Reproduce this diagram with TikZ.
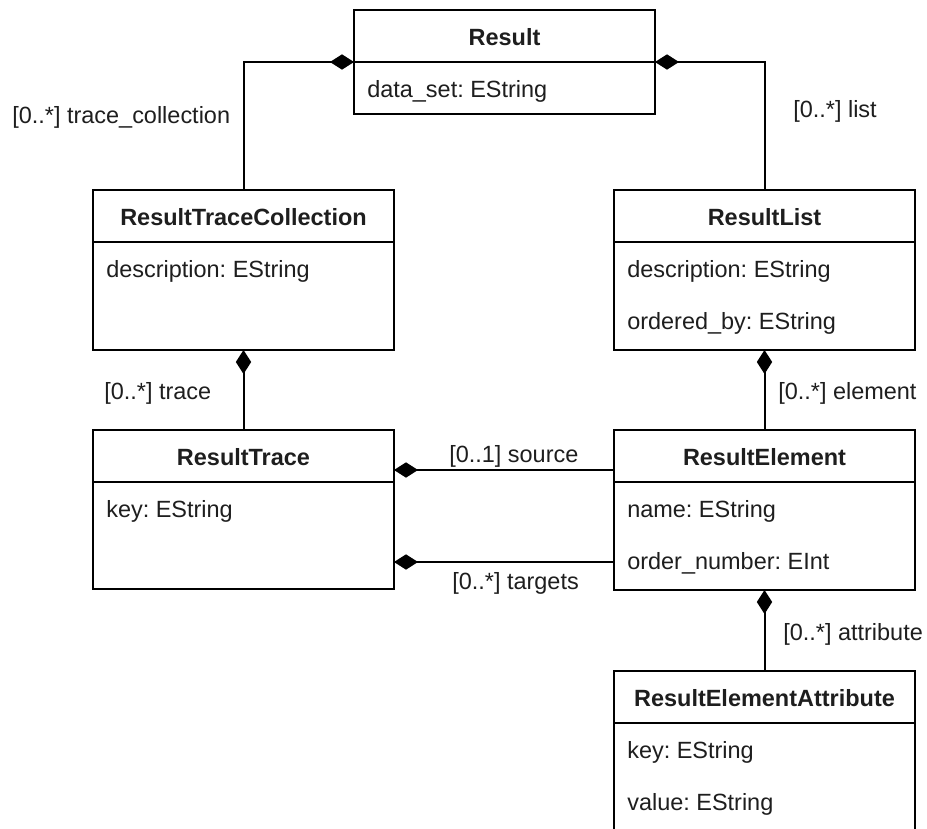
\documentclass[tikz,border=0pt]{standalone}
\usepackage{fontspec}
\setmainfont{Liberation Sans}
\usetikzlibrary{arrows.meta,fit}
\frenchspacing

\definecolor{ink}{HTML}{1E1E1E}

\tikzset{
  x=0.75pt, y=-0.75pt,
  classbox/.style={draw=black, line width=1.5pt, inner sep=0pt, outer sep=0pt, fill=white},
  ctitle/.style={font=\fontsize{17.6}{21}\selectfont\bfseries, text=ink, anchor=base, inner sep=0pt},
  cattr/.style={font=\fontsize{17.6}{21}\selectfont, text=ink, anchor=base west, inner sep=0pt},
  role/.style={font=\fontsize{17.6}{21}\selectfont, text=ink, inner sep=0pt},
  divider/.style={draw=black, line width=1.5pt},
  comp/.style={draw=black, line width=1.5pt, {Diamond[length=18pt,width=11.5pt]}-},
}

% class box: name, left, top, right, bottom, title
\newcommand\umlclass[6]{%
  \node[classbox, fit={(#2,#3) (#4,#5)}] (#1) {};
  \draw[divider] ([shift={(0,52)}]#1.north west) -- ([shift={(0,52)}]#1.north east);
  \node[ctitle] (#1-title) at ([shift={(0,35)}]#1.north) {#6};
}
% attribute row: class, node name, row number, text
\newcommand\umlattr[4]{%
  \node[cattr] (#2) at ([shift={(13,{35+52*#3})}]#1.north west) {#4};
}

\begin{document}
\begin{tikzpicture}
  \useasboundingbox (0,0) rectangle (927,828);
  \fill[white] (0,0) rectangle (927,828);
  \clip (0,0) rectangle (927,828);

  % classes
  \umlclass{result}{354}{10}{655}{114}{Result}
  \umlattr{result}{result-a1}{1}{data\_set: EString}

  \umlclass{rtc}{93}{190}{394}{350}{ResultTraceCollection}
  \umlattr{rtc}{rtc-a1}{1}{description: EString}

  \umlclass{rlist}{614}{190}{915}{350}{ResultList}
  \umlattr{rlist}{rlist-a1}{1}{description: EString}
  \umlattr{rlist}{rlist-a2}{2}{ordered\_by: EString}

  \umlclass{rtrace}{93}{430}{394}{589}{ResultTrace}
  \umlattr{rtrace}{rtrace-a1}{1}{key: EString}

  \umlclass{relem}{614}{430}{915}{590}{ResultElement}
  \umlattr{relem}{relem-a1}{1}{name: EString}
  \umlattr{relem}{relem-a2}{2}{order\_number: EInt}

  \umlclass{rattr}{614}{671}{915}{880}{ResultElementAttribute}
  \umlattr{rattr}{rattr-a1}{1}{key: EString}
  \umlattr{rattr}{rattr-a2}{2}{value: EString}

  % compositions
  \coordinate (srcy) at (0,470);
  \coordinate (tgty) at (0,562);
  \draw[comp] (result.west) -| (rtc.north);
  \draw[comp] (result.east) -| (rlist.north);
  \draw[comp] (rtc.south) -- (rtrace.north);
  \draw[comp] (rlist.south) -- (relem.north);
  \draw[comp] (rtrace.east |- srcy) -- (relem.west |- srcy);
  \draw[comp] (rtrace.east |- tgty) -- (relem.west |- tgty);
  \draw[comp] (relem.south) -- (rattr.north);

  % role names
  \node[role, anchor=base west] (l-tc) at (12,123) {[0..*] trace\_collection};
  \node[role, anchor=base west] (l-list) at (793,117) {[0..*] list};
  \node[role, anchor=base west] (l-trace) at (104,399) {[0..*] trace};
  \node[role, anchor=base west] (l-elem) at (778,399) {[0..*] element};
  \node[role, anchor=base west] (l-src) at (449,462) {[0..1] source};
  \node[role, anchor=base west] (l-tgt) at (452,589) {[0..*] targets};
  \node[role, anchor=base west] (l-attr) at (783,640) {[0..*] attribute};
\end{tikzpicture}
\end{document}
